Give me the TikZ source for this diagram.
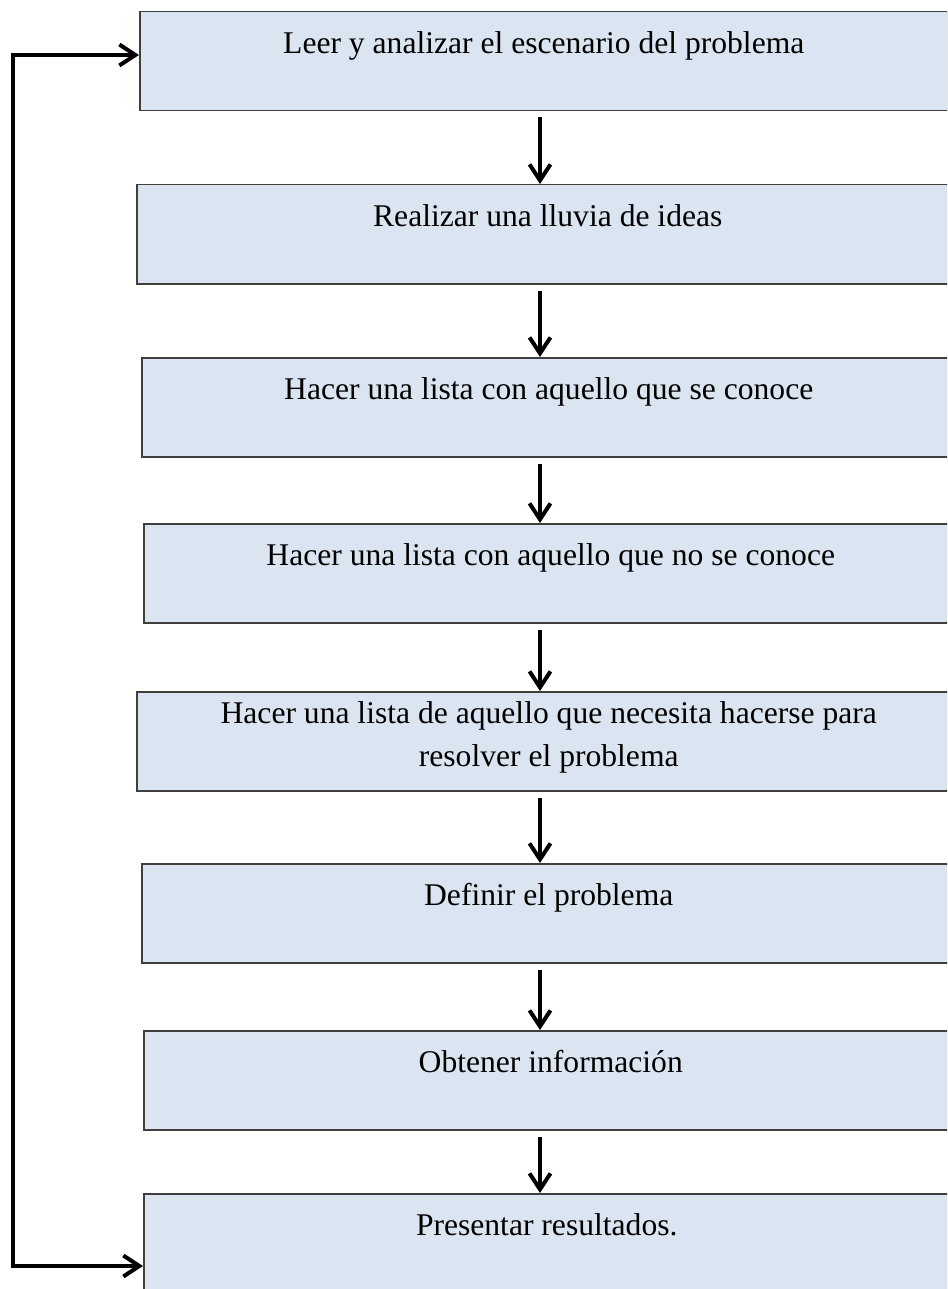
\documentclass[tikz,border=0pt]{standalone}
\usepackage{fontspec}
\setmainfont{Liberation Serif}
\usetikzlibrary{arrows.meta}

\definecolor{stagefill}{HTML}{DBE5F1}
\definecolor{stageline}{HTML}{3F3F3F}

\tikzset{
	stage/.style={draw=stageline, line width=0.75pt, fill=stagefill, anchor=north west, inner sep=0pt,
		text width=#1, align=flush center, text height=20.75pt, text depth=28.75pt,
		font=\fontsize{15.8}{21.5}\selectfont},
	stage/.default=407pt,
	flow/.style={line width=2pt, ->, shorten <=3pt},
	loopback/.style={line width=2pt, <->}
}

\begin{document}
\begin{tikzpicture}[x=0.5pt, y=-0.5pt, >={Straight Barb[length=8pt, width=10.5pt]}]
	\useasboundingbox (0,0) rectangle (947,1289);
	\clip (0,0) rectangle (947,1289);
	\node[stage=404pt] (b1) at (139,11) {Leer y analizar el escenario del problema};
	\node[stage=411pt] (b2) at (136,184) {Realizar una lluvia de ideas};
	\node[stage] (b3) at (141,357) {Hacer una lista con aquello que se conoce};
	\node[stage] (b4) at (143,523) {Hacer una lista con aquello que no se conoce};
	\node[stage=412pt, text height=16pt, text depth=33.5pt] (b5) at (136,691) {Hacer una lista de aquello que necesita hacerse para\\ resolver el problema};
	\node[stage] (b6) at (141,863) {Definir el problema};
	\node[stage] (b7) at (143,1030) {Obtener información};
	\node[stage=403pt] (b8) at (143,1193) {Presentar resultados.};
	\coordinate (spine) at (540,0);
	\coordinate (back) at (13,600);
	\coordinate (in1) at ([yshift=-22pt]b1.north west);
	\coordinate (in8) at ([yshift=-36.5pt]b8.north west);
	\draw[flow] (b1.south -| spine) -- (b2.north -| spine);
	\draw[flow] (b2.south -| spine) -- (b3.north -| spine);
	\draw[flow] (b3.south -| spine) -- (b4.north -| spine);
	\draw[flow] (b4.south -| spine) -- (b5.north -| spine);
	\draw[flow] (b5.south -| spine) -- (b6.north -| spine);
	\draw[flow] (b6.south -| spine) -- (b7.north -| spine);
	\draw[flow] (b7.south -| spine) -- (b8.north -| spine);
	\draw[loopback] (in1) -| (back) |- (in8);
\end{tikzpicture}
\end{document}
